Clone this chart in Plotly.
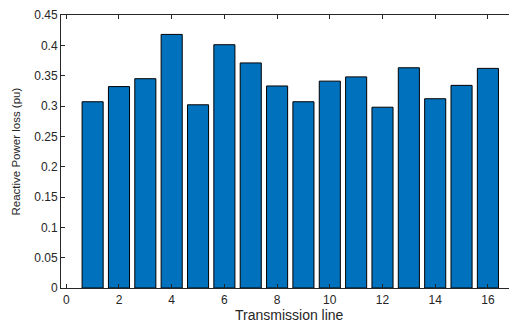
import plotly.graph_objects as go

lines = list(range(1, 17))
loss = [0.307, 0.332, 0.345, 0.418, 0.302, 0.401, 0.371, 0.333,
        0.307, 0.341, 0.348, 0.298, 0.363, 0.312, 0.334, 0.362]
x_ticks = [0, 2, 4, 6, 8, 10, 12, 14, 16]
y_ticks = [0, 0.05, 0.1, 0.15, 0.2, 0.25, 0.3, 0.35, 0.4, 0.45]
y_labels = ["0", "0.05", "0.1", "0.15", "0.2", "0.25", "0.3", "0.35", "0.4", "0.45"]

FONT = "Liberation Sans, Arial"
INK = "#262626"

fig = go.Figure(go.Bar(
    x=lines, y=loss, width=0.8,
    marker=dict(color="#0072BD", line=dict(color="#000000", width=1)),
))

axis_common = dict(
    showline=True, linecolor=INK, linewidth=1, mirror="ticks",
    ticks="inside", ticklen=4, tickcolor=INK, showgrid=False, zeroline=False,
    automargin=False,
    tickfont=dict(family=FONT, size=12, color=INK),
)

fig.update_layout(
    width=511, height=314,
    margin=dict(l=53, r=0, t=7, b=34, autoexpand=False),
    paper_bgcolor="white", plot_bgcolor="white",
    showlegend=False,
    xaxis=dict(range=[-0.2, 17.18], tickvals=x_ticks, ticklabelstandoff=1, **axis_common),
    yaxis=dict(range=[0, 0.45], tickvals=y_ticks, ticktext=y_labels, **axis_common),
    annotations=[
        dict(text="Transmission line", xref="paper", yref="paper", x=0.5, y=0,
             xanchor="center", yanchor="middle", yshift=-27, xshift=-1, showarrow=False,
             font=dict(family=FONT, size=14, color=INK)),
        dict(text="Reactive Power loss (pu)", xref="paper", yref="paper", x=0, y=0.5,
             xanchor="center", yanchor="middle", xshift=-46, textangle=-90, showarrow=False,
             font=dict(family=FONT, size=11.5, color=INK)),
    ],
)

fig.write_html("out.html")
